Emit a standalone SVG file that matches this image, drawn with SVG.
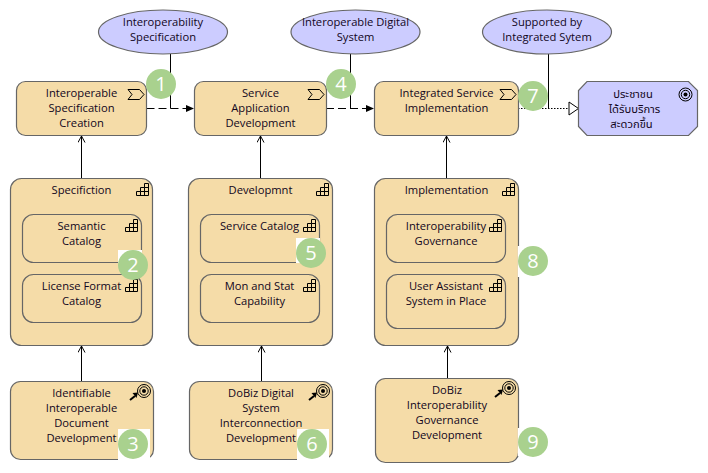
<svg xmlns="http://www.w3.org/2000/svg" width="708" height="473" viewBox="0 0 708 473">
<style>
text{font-family:"Open Sans","Noto Sans","Noto Sans Thai","DejaVu Sans",sans-serif;font-size:11.2px;fill:#12061c;text-anchor:middle}
.n{fill:#f5dca8;stroke:#666;stroke-width:1.2}
.v{fill:#ccccff;stroke:#666;stroke-width:1.2}
.l{fill:none;stroke:#000;stroke-width:1}
.i{fill:none;stroke:#000;stroke-width:1}
.b{fill:#a9d18e}
.bt{fill:#fff;font-size:20px}
.w{fill:#fff}
</style>
<defs>
<marker id="open" markerWidth="8" markerHeight="10" refX="7" refY="4" orient="auto" markerUnits="userSpaceOnUse"><path d="M0.500 0.500L7 4L0.500 7.500" fill="none" stroke="#000" stroke-width="1"/></marker>
<marker id="fill" markerWidth="9" markerHeight="8" refX="8" refY="4" orient="auto" markerUnits="userSpaceOnUse"><path d="M0 0.500L8 4L0 7.500Z" fill="#000"/></marker>
<marker id="hollow" markerWidth="12" markerHeight="16" refX="11" refY="7.500" orient="auto" markerUnits="userSpaceOnUse"><path d="M1 1L10.500 7.500L1 14Z" fill="#fff" stroke="#000" stroke-width="1"/></marker>
<g id="stair"><path class="i" d="M0.500 12.500V8.500H4.500V4.500H8.500V0.500H12.500V12.500ZM4.500 8.500V12.500M8.500 4.500V12.500M4.500 8.500H12.500M8.500 4.500H12.500"/></g>
<g id="proc"><path class="i" d="M0 0.500H11.500L16 5.500L11.500 10.500H0L4 5.500Z"/></g>
<g id="goal"><circle r="6.500" class="i"/><circle r="4.200" class="i"/><circle r="2" fill="#000"/></g>
<g id="dev"><use href="#goal" x="144" y="391"/><path d="M130 400L135 396" stroke="#000" stroke-width="2"/><path d="M132.500 393L138 392.500L136.500 398Z" fill="#000"/></g>
</defs>
<g id="connectors">
<path class="l" d="M170.500 108.500V54"/>
<path class="l" d="M350.500 108.500V54"/>
<path class="l" d="M548.500 108.500V54"/>
<path class="l" stroke-dasharray="8 4" d="M146.500 108.500H194" marker-end="url(#fill)"/>
<path class="l" stroke-dasharray="8 4" d="M326 108.500H374" marker-end="url(#fill)"/>
<path class="l" stroke-dasharray="1.500 1.500" d="M518 108.500H579" marker-end="url(#hollow)"/>
<path class="l" d="M81.500 178V136" marker-end="url(#open)"/>
<path class="l" d="M260.500 178V136" marker-end="url(#open)"/>
<path class="l" d="M446.500 178V136" marker-end="url(#open)"/>
<path class="l" d="M81.500 381V346" marker-end="url(#open)"/>
<path class="l" d="M261.500 381V346" marker-end="url(#open)"/>
<path class="l" d="M447.500 378V346" marker-end="url(#open)"/>
</g>
<g id="e1"><ellipse class="v" cx="163" cy="32" rx="64.500" ry="22"/><text x="163" y="26">Interoperability</text><text x="163" y="41">Specification</text></g>
<g id="e2"><ellipse class="v" cx="355.500" cy="32" rx="64.500" ry="22"/><text x="355.500" y="26">Interoperable Digital</text><text x="355.500" y="41">System</text></g>
<g id="e3"><ellipse class="v" cx="547" cy="32" rx="64.500" ry="22"/><text x="547" y="26">Supported by</text><text x="547" y="41">Integrated Sytem</text></g>
<g id="n1"><rect class="n" x="16.500" y="81.500" width="130" height="54" rx="9"/><use href="#proc" x="128" y="89"/><text x="81.500" y="97">Interoperable</text><text x="81.500" y="112">Specification</text><text x="81.500" y="127">Creation</text></g>
<g id="n4"><rect class="n" x="194.500" y="81.500" width="132" height="54" rx="9"/><use href="#proc" x="308" y="89"/><text x="260.500" y="97">Service</text><text x="260.500" y="112">Application</text><text x="260.500" y="127">Development</text></g>
<g id="n7"><rect class="n" x="374.500" y="81.500" width="144" height="54" rx="9"/><use href="#proc" x="500" y="89"/><text x="446.500" y="97">Integrated Service</text><text x="446.500" y="112">Implementation</text></g>
<g id="goal-citizen"><path class="v" d="M587 81.500H688.500L697.500 90.500V126.500L688.500 135.500H587L578.500 126.500V90.500Z"/><use href="#goal" x="685.500" y="94.500"/><text x="633" y="98">ประชาชน</text><text x="634.500" y="113">ได้รับบริการ</text><text x="631.500" y="128">สะดวกขึ้น</text></g>
<g id="spec"><rect class="n" x="10.500" y="178.500" width="142" height="167" rx="11"/><use href="#stair" x="136" y="183"/><text x="81.500" y="194">Specifiction</text></g>
<g id="dev-c"><rect class="n" x="188.500" y="178.500" width="144" height="167" rx="11"/><use href="#stair" x="316" y="183"/><text x="260.500" y="194">Developmnt</text></g>
<g id="impl"><rect class="n" x="374.500" y="178.500" width="144" height="167" rx="11"/><use href="#stair" x="502" y="183"/><text x="446.500" y="194">Implementation</text></g>
<g id="semantic"><rect class="n" x="22.500" y="214.500" width="119" height="48" rx="11"/><use href="#stair" x="125" y="219"/><text x="81.500" y="230">Semantic</text><text x="81.500" y="245">Catalog</text></g>
<g id="license"><rect class="n" x="22.500" y="274.500" width="119" height="48" rx="11"/><use href="#stair" x="125" y="279"/><text x="81.500" y="290">License Format</text><text x="81.500" y="305">Catalog</text></g>
<g id="service"><rect class="n" x="200.500" y="214.500" width="119" height="48" rx="11"/><use href="#stair" x="303" y="219"/><text x="259.500" y="230">Service Catalog</text></g>
<g id="mon"><rect class="n" x="200.500" y="274.500" width="119" height="48" rx="11"/><use href="#stair" x="303" y="279"/><text x="259.500" y="290">Mon and Stat</text><text x="259.500" y="305">Capability</text></g>
<g id="gov"><rect class="n" x="386.500" y="214.500" width="119" height="48" rx="11"/><use href="#stair" x="489" y="219"/><text x="446" y="230">Interoperability</text><text x="446" y="245">Governance</text></g>
<g id="user"><rect class="n" x="386.500" y="274.500" width="119" height="54" rx="11"/><use href="#stair" x="489" y="279"/><text x="446" y="290">User Assistant</text><text x="446" y="305">System in Place</text></g>
<g id="n3"><rect class="n" x="10.500" y="381.500" width="143" height="78" rx="10"/><use href="#dev"/><text x="81.500" y="397">Identifiable</text><text x="81.500" y="412">Interoperable</text><text x="81.500" y="427">Document</text><text x="81.500" y="442">Development</text></g>
<g id="n6"><rect class="n" x="189.500" y="381.500" width="143" height="78" rx="10"/><use href="#dev" x="179"/><text x="261" y="397">DoBiz Digital</text><text x="261" y="412">System</text><text x="261" y="427">Interconnection</text><text x="261" y="442">Development</text></g>
<g id="n9"><rect class="n" x="375.500" y="378.500" width="143" height="84" rx="10"/><use href="#dev" x="365" y="-3"/><text x="447" y="394">DoBiz</text><text x="447" y="409">Interoperability</text><text x="447" y="424">Governance</text><text x="447" y="439">Development</text></g>
<g id="badges">
<rect class="w" x="118" y="250" width="24" height="13"/>
<rect class="w" x="296" y="238" width="24" height="25"/>
<rect class="w" x="118" y="429" width="32" height="31"/>
<rect class="w" x="297" y="429" width="32" height="31"/>
<rect class="w" x="517.800" y="246" width="2" height="31"/>
<rect class="w" x="517.800" y="428" width="2" height="28"/>
<g id="b1"><circle class="b" cx="161" cy="84" r="15"/><text class="bt" x="161" y="91">1</text></g>
<g id="b2"><circle class="b" cx="133" cy="265" r="15"/><text class="bt" x="133" y="272">2</text></g>
<g id="b3"><circle class="b" cx="133" cy="444" r="15"/><text class="bt" x="133" y="451">3</text></g>
<g id="b4"><circle class="b" cx="341" cy="84" r="15"/><text class="bt" x="341" y="91">4</text></g>
<g id="b5"><circle class="b" cx="311" cy="253" r="15"/><text class="bt" x="311" y="260">5</text></g>
<g id="b6"><circle class="b" cx="312" cy="444" r="15"/><text class="bt" x="312" y="451">6</text></g>
<g id="b7"><circle class="b" cx="533" cy="96" r="15"/><text class="bt" x="533" y="103">7</text></g>
<g id="b8"><circle class="b" cx="533" cy="261" r="15"/><text class="bt" x="533" y="268">8</text></g>
<g id="b9"><circle class="b" cx="533" cy="442" r="15"/><text class="bt" x="533" y="449">9</text></g>
</g>
</svg>
